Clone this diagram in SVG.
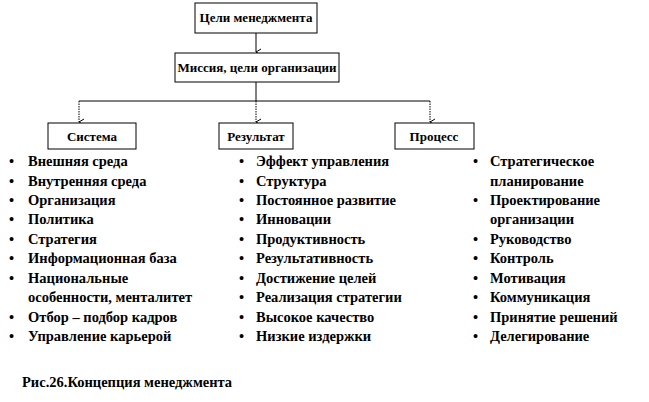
<svg xmlns="http://www.w3.org/2000/svg" width="649" height="402" viewBox="0 0 649 402">
<style>
text{font-family:"Liberation Serif","Times New Roman","DejaVu Serif",serif;font-weight:bold;font-size:14.5px;fill:#000}
text.c{font-size:13px;text-anchor:middle}
.box{fill:#fff;stroke:#000;stroke-width:1}
.ln{stroke:#000;stroke-width:1;fill:none}
.dl{stroke:#000;stroke-width:1;fill:none;stroke-dasharray:1.5 1}
</style>
<defs><marker id="a" markerWidth="8" markerHeight="8" refX="4" refY="6" orient="auto" markerUnits="userSpaceOnUse"><path d="M1,1 L4,6 L7,1" fill="none" stroke="#000"/></marker></defs>
<rect width="649" height="402" fill="#fff"/>
<g id="connectors">
<line class="ln" x1="256" y1="33" x2="256" y2="52" marker-end="url(#a)"/>
<line class="ln" x1="256" y1="82" x2="256" y2="101"/>
<line class="ln" x1="79" y1="101" x2="430" y2="101"/>
<line class="dl" x1="79" y1="101" x2="79" y2="122" marker-end="url(#a)"/>
<line class="dl" x1="256" y1="101" x2="256" y2="122" marker-end="url(#a)"/>
<line class="dl" x1="430" y1="101" x2="430" y2="122" marker-end="url(#a)"/>
</g>
<g id="goals"><rect class="box" x="195" y="3" width="122" height="30"/><text class="c" x="256" y="22">Цели менеджмента</text></g>
<g id="mission"><rect class="box" x="175" y="53" width="164" height="29"/><text class="c" x="257" y="72">Миссия, цели организации</text></g>
<g id="system"><rect class="box" x="48" y="123" width="88" height="26"/><text class="c" x="92" y="141">Система</text></g>
<g id="result"><rect class="box" x="219" y="123" width="74" height="26"/><text class="c" x="256" y="141">Результат</text></g>
<g id="process"><rect class="box" x="395" y="123" width="79" height="26"/><text class="c" x="434" y="141">Процесс</text></g>
<g id="list-system">
<text x="9" y="166">•</text><text x="28" y="166">Внешняя  среда</text>
<text x="9" y="186">•</text><text x="28" y="186">Внутренняя среда</text>
<text x="9" y="205">•</text><text x="28" y="205">Организация</text>
<text x="9" y="224">•</text><text x="28" y="224">Политика</text>
<text x="9" y="244">•</text><text x="28" y="244">Стратегия</text>
<text x="9" y="263">•</text><text x="28" y="263">Информационная база</text>
<text x="9" y="283">•</text><text x="28" y="283">Национальные</text>
<text x="28" y="302">особенности, менталитет</text>
<text x="9" y="322">•</text><text x="28" y="322">Отбор – подбор кадров</text>
<text x="9" y="341">•</text><text x="28" y="341">Управление карьерой</text>
</g>
<g id="list-result">
<text x="239" y="166">•</text><text x="256" y="166">Эффект  управления</text>
<text x="239" y="186">•</text><text x="256" y="186">Структура</text>
<text x="239" y="205">•</text><text x="256" y="205">Постоянное развитие</text>
<text x="239" y="224">•</text><text x="256" y="224">Инновации</text>
<text x="239" y="244">•</text><text x="256" y="244">Продуктивность</text>
<text x="239" y="263">•</text><text x="256" y="263">Результативность</text>
<text x="239" y="283">•</text><text x="256" y="283">Достижение целей</text>
<text x="239" y="302">•</text><text x="256" y="302">Реализация стратегии</text>
<text x="239" y="322">•</text><text x="256" y="322">Высокое качество</text>
<text x="239" y="341">•</text><text x="256" y="341">Низкие издержки</text>
</g>
<g id="list-process">
<text x="473" y="166">•</text><text x="490" y="166">Стратегическое</text>
<text x="490" y="186">планирование</text>
<text x="473" y="205">•</text><text x="490" y="205">Проектирование</text>
<text x="490" y="224">организации</text>
<text x="473" y="244">•</text><text x="490" y="244">Руководство</text>
<text x="473" y="263">•</text><text x="490" y="263">Контроль</text>
<text x="473" y="283">•</text><text x="490" y="283">Мотивация</text>
<text x="473" y="302">•</text><text x="490" y="302">Коммуникация</text>
<text x="473" y="322">•</text><text x="490" y="322">Принятие решений</text>
<text x="473" y="341">•</text><text x="490" y="341">Делегирование</text>
</g>
<text x="22" y="387">Рис.26.Концепция менеджмента</text>
</svg>
